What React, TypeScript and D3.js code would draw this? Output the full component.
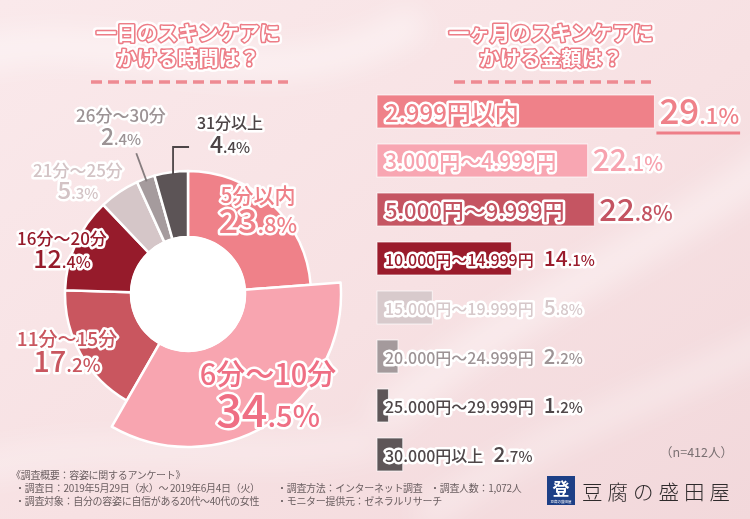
import React, { useRef, useEffect } from 'react';
import * as d3 from 'd3';

// 一日のスキンケアにかける時間
const timeCategories = ['5分以内', '6分〜10分', '11分〜15分', '16分〜20分', '21分〜25分', '26分〜30分', '31分以上'];
const timeValues = [23.8, 34.5, 17.2, 12.4, 5.3, 2.4, 4.4];

// 一ヶ月のスキンケアにかける金額
const costCategories = [
  '2.999円以内',
  '3.000円〜4.999円',
  '5.000円〜9.999円',
  '10.000円〜14.999円',
  '15.000円〜19.999円',
  '20.000円〜24.999円',
  '25.000円〜29.999円',
  '30.000円以上',
];
const costValues = [29.1, 22.1, 22.8, 14.1, 5.8, 2.2, 1.2, 2.7];

const footerLeft = [
  '《調査概要：容姿に関するアンケート》',
  '・調査日：2019年5月29日（水）〜 2019年6月4日（火）',
  '・調査対象：自分の容姿に自信がある20代〜40代の女性',
];
const footerRight = [
  ['・調査方法：インターネット調査', '・調査人数：1,072人'],
  ['・モニター提供元：ゼネラルリサーチ'],
];

const timeColors = ['#ef8189', '#f8a5b0', '#c9565f', '#961b2b', '#d5c6c8', '#a59b9d', '#5c5456'];
const timeTextColors = ['#ef8189', '#ef6f84', '#c9565f', '#961b2b', '#d3c3c5', '#9c9395', '#4d4547'];
const costColors = ['#ef8189', '#f8a6b2', '#c55562', '#9a1b2b', '#d8cacc', '#a49a9c', '#5e5658', '#5e5658'];
const costTextColors = ['#ef8189', '#f7a2ae', '#c45462', '#9a1b2b', '#d6c8ca', '#9d9395', '#4f4749', '#4f4749'];

const FONT = '"Noto Sans CJK JP", "Noto Sans", sans-serif';

// where each donut label sits (centre x, name baseline, value baseline, sizes)
const donutLabelLayout = [
  { x: 258, y1: 203, y2: 233, s1: 21, s2: 34, s3: 22 },
  { x: 268, y1: 385, y2: 427, s1: 29, s2: 45, s3: 29 },
  { x: 67, y1: 346, y2: 372, s1: 19, s2: 29, s3: 19 },
  { x: 62, y1: 245, y2: 268, s1: 17, s2: 25, s3: 16 },
  { x: 78, y1: 177, y2: 199, s1: 17, s2: 24, s3: 15 },
  { x: 121, y1: 122, y2: 145, s1: 17, s2: 23, s3: 15 },
  { x: 230, y1: 129, y2: 153, s1: 16, s2: 23, s3: 15 },
];

const costLabelSize = [24, 21, 22, 16, 16, 16, 16, 16];
const costValueSize = [[35, 22], [30, 20], [31, 21], [21, 15], [21, 15], [21, 15], [21, 15], [21, 15]];

const splitValue = (v: number) => {
  const [a, b] = v.toFixed(1).split('.');
  return [a, `.${b}%`];
};

const halo = (sel: any, color: string, w = 5) =>
  sel
    .attr('fill', color)
    .attr('stroke', '#fff')
    .attr('stroke-width', w)
    .attr('stroke-linejoin', 'round')
    .attr('paint-order', 'stroke');

const App = () => {
  const ref = useRef<SVGSVGElement>(null);

  useEffect(() => {
    document.body.style.margin = '0';
    const svg = d3.select(ref.current);
    svg.selectAll('*').remove();

    // background
    const defs = svg.append('defs');
    const grad = defs.append('linearGradient').attr('id', 'bg').attr('x1', 0).attr('y1', 0).attr('x2', 1).attr('y2', 1);
    grad.append('stop').attr('offset', '0%').attr('stop-color', '#fae9eb');
    grad.append('stop').attr('offset', '55%').attr('stop-color', '#f7e1e3');
    grad.append('stop').attr('offset', '100%').attr('stop-color', '#f2d8db');
    defs.append('filter').attr('id', 'blur').append('feGaussianBlur').attr('stdDeviation', 14);

    svg.append('rect').attr('width', 750).attr('height', 519).attr('fill', 'url(#bg)');
    const silk = svg.append('g').attr('filter', 'url(#blur)').attr('fill', 'none').attr('stroke', '#fff');
    silk.append('path').attr('d', 'M-40,60 C120,10 260,120 420,20').attr('stroke-width', 30).attr('opacity', 0.45);
    silk.append('path').attr('d', 'M380,420 C520,300 640,260 790,150').attr('stroke-width', 36).attr('opacity', 0.4);
    silk.append('path').attr('d', 'M420,520 C560,420 660,400 790,330').attr('stroke-width', 26).attr('opacity', 0.35);
    silk.append('path').attr('d', 'M-30,470 C120,430 250,470 380,440').attr('stroke-width', 28).attr('opacity', 0.3);

    // titles
    const title = (lines: string[], cx: number) => {
      const g = svg.append('g').attr('font-family', FONT).attr('font-weight', 700).attr('font-size', 20.5).attr('text-anchor', 'middle');
      lines.forEach((t, i) => {
        const y = 41 + i * 25;
        g.append('text').attr('x', cx).attr('y', y).text(t)
          .attr('fill', '#fff').attr('stroke', '#fff').attr('stroke-width', 8).attr('stroke-linejoin', 'round').attr('opacity', 0.9);
        g.append('text').attr('x', cx).attr('y', y).text(t)
          .attr('fill', '#ed7d87').attr('stroke', '#ed7d87').attr('stroke-width', 3.2).attr('stroke-linejoin', 'round');
        g.append('text').attr('x', cx).attr('y', y).text(t).attr('fill', '#fff');
      });
      svg.append('line')
        .attr('x1', cx - 97).attr('x2', cx + 100).attr('y1', 82).attr('y2', 82)
        .attr('stroke', '#ee8a92').attr('stroke-width', 3.5).attr('stroke-dasharray', '11 6');
    };
    title(['一日のスキンケアに', 'かける時間は？'], 188);
    title(['一ヶ月のスキンケアに', 'かける金額は？'], 551);

    // donut
    const cx = 188, cy = 294, r0 = 57, r1 = 123, rBig = 153;
    const pie = d3.pie<number>().sort(null).value(d => d).startAngle(0).endAngle(2 * Math.PI);
    const arcs = pie(timeValues);
    const arc = d3.arc<d3.PieArcDatum<number>>().innerRadius(r0)
      .outerRadius((d: any) => (d.index === 1 ? rBig : r1));
    const dg = svg.append('g').attr('transform', `translate(${cx},${cy})`);
    // big slice drawn last so it sits on top
    const order = [0, 2, 3, 4, 5, 6, 1];
    dg.selectAll('path')
      .data(order.map(i => arcs[i]))
      .enter()
      .append('path')
      .attr('d', arc as any)
      .attr('fill', d => timeColors[d.index])
      .attr('stroke', '#fff')
      .attr('stroke-width', 2.5)
      .attr('stroke-linejoin', 'round');
    dg.append('circle').attr('r', r0 + 1).attr('fill', '#fff');

    // leader lines for the two thin slices
    const mid = (d: d3.PieArcDatum<number>) => (d.startAngle + d.endAngle) / 2;
    const a5 = mid(arcs[5]);
    dg.append('line')
      .attr('x1', Math.sin(a5) * (r1 - 3)).attr('y1', -Math.cos(a5) * (r1 - 3))
      .attr('x2', Math.sin(a5) * (r1 + 27)).attr('y2', -Math.cos(a5) * (r1 + 27))
      .attr('stroke', '#857c7e').attr('stroke-width', 1.8);
    const a6 = mid(arcs[6]);
    const px = Math.sin(a6) * r1 + 2, py = -Math.cos(a6) * r1;
    dg.append('polyline')
      .attr('points', `${px},${py + 2} ${px},${152 - cy - 5} ${px + 16},${152 - cy - 5}`)
      .attr('fill', 'none').attr('stroke', '#4d4547').attr('stroke-width', 1.8);

    // donut labels
    const lg = svg.append('g').attr('font-family', FONT).attr('font-weight', 500).attr('text-anchor', 'middle');
    timeCategories.forEach((name, i) => {
      const L = donutLabelLayout[i];
      const col = timeTextColors[i];
      halo(lg.append('text').attr('x', L.x).attr('y', L.y1).attr('font-size', L.s1).text(name), col, 5);
      const [big, small] = splitValue(timeValues[i]);
      const t = halo(lg.append('text').attr('x', L.x).attr('y', L.y2), col, 5);
      t.append('tspan').attr('font-size', L.s2).text(big);
      t.append('tspan').attr('font-size', L.s3).text(small);
    });

    // bars
    const barLeft = 377;
    const x = d3.scaleLinear().domain([0, 30]).range([0, 286]);
    const y = d3.scaleBand<string>().domain(costCategories).range([95, 471]).paddingInner(16 / 49).paddingOuter(0);
    const bg = svg.append('g').attr('font-family', FONT).attr('font-weight', 500);
    costCategories.forEach((cat, i) => {
      const v = costValues[i];
      const top = y(cat) as number;
      const h = y.bandwidth();
      const mid = top + h / 2;
      bg.append('rect')
        .attr('x', barLeft).attr('y', top)
        .attr('width', x(v)).attr('height', h)
        .attr('fill', costColors[i])
        .attr('stroke', 'rgba(255,255,255,0.7)').attr('stroke-width', 1);
      const fs = costLabelSize[i];
      const lab = halo(
        bg.append('text').attr('x', barLeft + 8).attr('y', mid + fs * 0.38 + 1).attr('font-size', fs).text(cat),
        costTextColors[i], 5
      );
      const labelEnd = barLeft + 8 + (lab.node() as SVGTextElement).getComputedTextLength();
      const vx = Math.max(barLeft + x(v) + 5, labelEnd + 10);
      const [bs, ss] = costValueSize[i];
      const [big, small] = splitValue(v);
      const vt = halo(bg.append('text').attr('x', vx).attr('y', mid + bs * 0.36), costTextColors[i], 5);
      vt.append('tspan').attr('font-size', bs).text(big);
      vt.append('tspan').attr('font-size', ss).text(small);
      if (i === 0) {
        const w = (vt.node() as SVGTextElement).getComputedTextLength();
        bg.append('line')
          .attr('x1', vx - 3).attr('x2', vx + w + 1).attr('y1', top + h + 5).attr('y2', top + h + 5)
          .attr('stroke', '#ee7e88').attr('stroke-width', 3);
      }
    });

    svg.append('text')
      .attr('x', 733).attr('y', 457).attr('text-anchor', 'end')
      .attr('font-family', FONT).attr('font-size', 12.5).attr('fill', '#7a7072')
      .text('（n=412人）');

    // footer
    const fg = svg.append('g').attr('font-family', FONT).attr('font-size', 10).attr('fill', '#6a5e60').attr('letter-spacing', -0.3);
    footerLeft.forEach((t, i) => {
      fg.append('text').attr('x', i === 0 ? 11 : 15).attr('y', 479 + i * 13).text(t);
    });
    footerRight.forEach((row, i) => {
      row.forEach((t, j) => {
        fg.append('text').attr('x', j === 0 ? 277 : 430).attr('y', 492 + i * 13).text(t);
      });
    });

    // logo
    svg.append('rect').attr('x', 547).attr('y', 476).attr('width', 28).attr('height', 29).attr('fill', '#1d3f86');
    svg.append('text').attr('x', 561).attr('y', 495).attr('text-anchor', 'middle')
      .attr('font-family', FONT).attr('font-weight', 700).attr('font-size', 17).attr('fill', '#fff').text('登');
    svg.append('text').attr('x', 561).attr('y', 503).attr('text-anchor', 'middle')
      .attr('font-family', FONT).attr('font-size', 3.5).attr('fill', '#fff').text('豆腐の盛田屋');
    svg.append('text').attr('x', 582).attr('y', 500)
      .attr('font-family', FONT).attr('font-weight', 300).attr('font-size', 20.5)
      .attr('letter-spacing', 5).attr('fill', '#2e2a2b').text('豆腐の盛田屋');
  }, []);

  return <svg ref={ref} width={750} height={519} style={{ display: 'block' }} />;
};

export default App;
